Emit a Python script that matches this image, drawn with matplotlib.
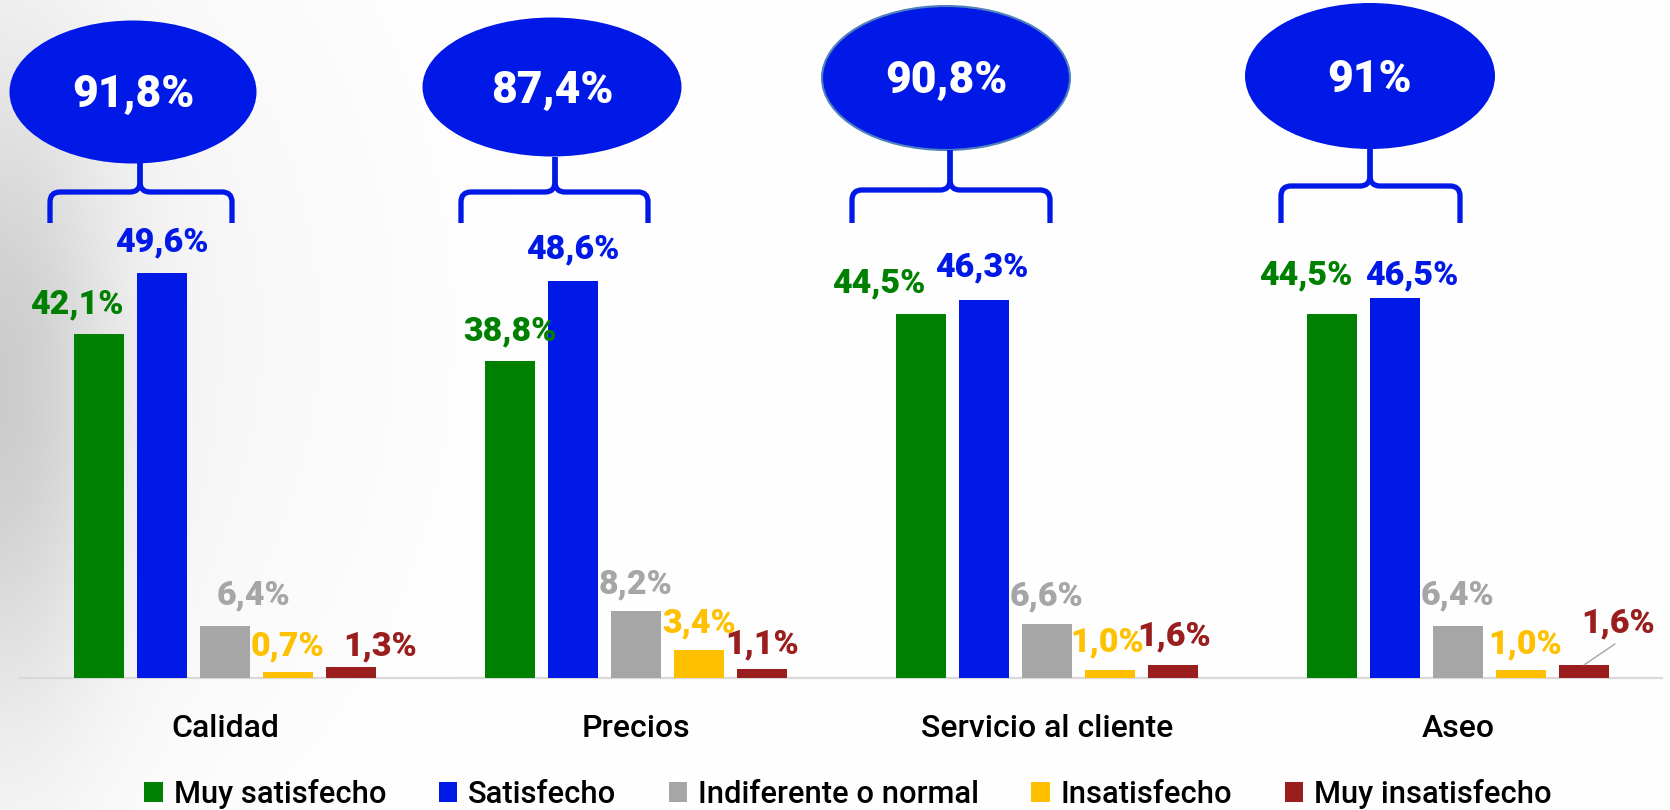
import numpy as np
import matplotlib
matplotlib.use("Agg")
import matplotlib.pyplot as plt
from matplotlib.patches import Ellipse, PathPatch
from matplotlib.path import Path

plt.rcParams['font.family'] = ['Roboto', 'DejaVu Sans']

# ---------------- data ----------------
categories = ["Calidad", "Precios", "Servicio al cliente", "Aseo"]
series_names = ["Muy satisfecho", "Satisfecho", "Indiferente o normal",
                "Insatisfecho", "Muy insatisfecho"]
muy_satisfecho = [42.1, 38.8, 44.5, 44.5]
satisfecho = [49.6, 48.6, 46.3, 46.5]
indiferente = [6.4, 8.2, 6.6, 6.4]
insatisfecho = [0.7, 3.4, 1.0, 1.0]
muy_insatisfecho = [1.3, 1.1, 1.6, 1.6]
satisfaccion_total = ["91,8%", "87,4%", "90,8%", "91%"]

# ---------------- style / layout ----------------
colors = ["#008000", "#0019E6", "#A6A6A6", "#FFC000", "#9A1E1E"]
W, H = 1670, 810
X0, XSTEP = 225.0, 411.0          # pixel center of first group, group spacing
Y0, PXPER = 678.0, 8.17           # baseline pixel row, pixels per percent
BAR_STEP, BAR_W = 63.0, 50.0

# label offsets (pixels, dx, dy-up to baseline) per category / series
label_offsets = [
    [(-22, 21), (0, 21), (29, 21), (0, 17), (29, 12)],
    [(0, 21), (0, 22), (0, 18), (0, 18), (0, 16)],
    [(-42, 22), (-2, 23), (0, 19), (-3, 18), (1, 19)],
    [(-26, 30), (17, 14), (0, 21), (4, 16), (34, 32)],
]
# ellipse (cx, cy, w, h, text baseline) and brace (L, R, S, Hy, B, T) in pixels
ellipses = [(133, 92, 247, 143, 107), (552, 87, 259, 139, 103),
            (946, 78, 248, 144, 93), (1370, 76, 250, 146, 92)]
braces = [(50, 232, 140, 192, 223, 163), (461, 648, 555, 192, 223, 157),
          (852, 1050, 950, 190, 223, 150), (1281, 1460, 1370, 186, 223, 149)]

fig = plt.figure(figsize=(W / 100, H / 100), dpi=100)

# background gradient
axbg = fig.add_axes([0, 0, 1, 1], zorder=0)
xx, yy = np.meshgrid(np.arange(W), np.arange(H))
shade = (0.15 * np.exp(-(xx / 110.0) ** 2 - ((yy - 400) / 330.0) ** 2)
         + 0.05 * np.exp(-(xx / 330.0) ** 2 - ((yy - 330) / 420.0) ** 2))
img = np.clip(1 - shade, 0, 1)
axbg.imshow(np.dstack([img, img, img]), extent=(0, W, H, 0), aspect='auto')
axbg.set_xlim(0, W)
axbg.set_ylim(H, 0)
axbg.axis('off')

# main axes mapped so that pixel geometry matches
ax = fig.add_axes([0, 0, 1, 1], zorder=1)
ax.set_facecolor('none')
ax.set_xlim((0 - X0) / XSTEP, (W - X0) / XSTEP)
ax.set_ylim((Y0 - H) / PXPER, Y0 / PXPER)
ax.axis('off')

ax.axhline(0, xmin=20 / W, xmax=1662 / W, color="#D9D9D9", lw=1.6, zorder=0)

all_series = [muy_satisfecho, satisfecho, indiferente, insatisfecho, muy_insatisfecho]
x = np.arange(len(categories))
handles = []
for s, (vals, name, col) in enumerate(zip(all_series, series_names, colors)):
    pos = x + (s - 2) * BAR_STEP / XSTEP
    b = ax.bar(pos, vals, width=BAR_W / XSTEP, color=col, label=name, zorder=2)
    handles.append(b)
    for c, (px, v) in enumerate(zip(pos, vals)):
        dx, dy = label_offsets[c][s]
        ax.annotate(f"{v:.1f}".replace('.', ',') + "%", (px, v),
                    xytext=(dx, dy), textcoords='offset pixels',
                    ha='center', va='baseline', color=col,
                    fontsize=24.5, fontweight='black', zorder=3)

# leader line for Aseo "Muy insatisfecho"
pos_r = x[3] + 2 * BAR_STEP / XSTEP
ax.annotate("", (pos_r, muy_insatisfecho[3]), xytext=(31, 21),
            textcoords='offset pixels',
            arrowprops=dict(arrowstyle='-', color='#A6A6A6', lw=1.0,
                            shrinkA=0, shrinkB=0))

# category labels
for i, cat in enumerate(categories):
    ax.text(i, (Y0 - 737) / PXPER, cat, ha='center', va='baseline',
            fontsize=23, fontweight='medium', color='black')

# decorations in pixel space
axd = fig.add_axes([0, 0, 1, 1], zorder=2)
axd.set_xlim(0, W)
axd.set_ylim(H, 0)
axd.set_facecolor('none')
axd.axis('off')

for i, ((cx, cy, ew, eh, tb), txt) in enumerate(zip(ellipses, satisfaccion_total)):
    ec = '#4F81BD' if i == 2 else 'none'
    axd.add_patch(Ellipse((cx, cy), ew, eh, facecolor='#0019E6',
                          edgecolor=ec, lw=1.5))
    axd.text(cx, tb, txt, ha='center', va='baseline', color='white',
             fontsize=32, fontweight='black')

r = 10
for (L, R, S, Hy, B, T) in braces:
    for side in (L, R):
        sg = 1 if side < S else -1
        verts = [(side, B), (side, Hy + r), (side, Hy), (side + sg * r, Hy),
                 (S - sg * r, Hy), (S, Hy), (S, Hy - r), (S, T)]
        codes = [Path.MOVETO, Path.LINETO, Path.CURVE3, Path.CURVE3,
                 Path.LINETO, Path.CURVE3, Path.CURVE3, Path.LINETO]
        axd.add_patch(PathPatch(Path(verts, codes), facecolor='none',
                                edgecolor='#0019E6', lw=3.8,
                                capstyle='butt', joinstyle='round'))

fig.legend(handles, series_names, loc='center',
           bbox_to_anchor=(848 / W, 1 - 794 / H), ncol=5, frameon=False,
           prop={'size': 22.2, 'weight': 'medium'},
           handlelength=0.6, handleheight=0.6,
           handletextpad=0.35, columnspacing=1.7)

fig.savefig("out.png", dpi=100)
